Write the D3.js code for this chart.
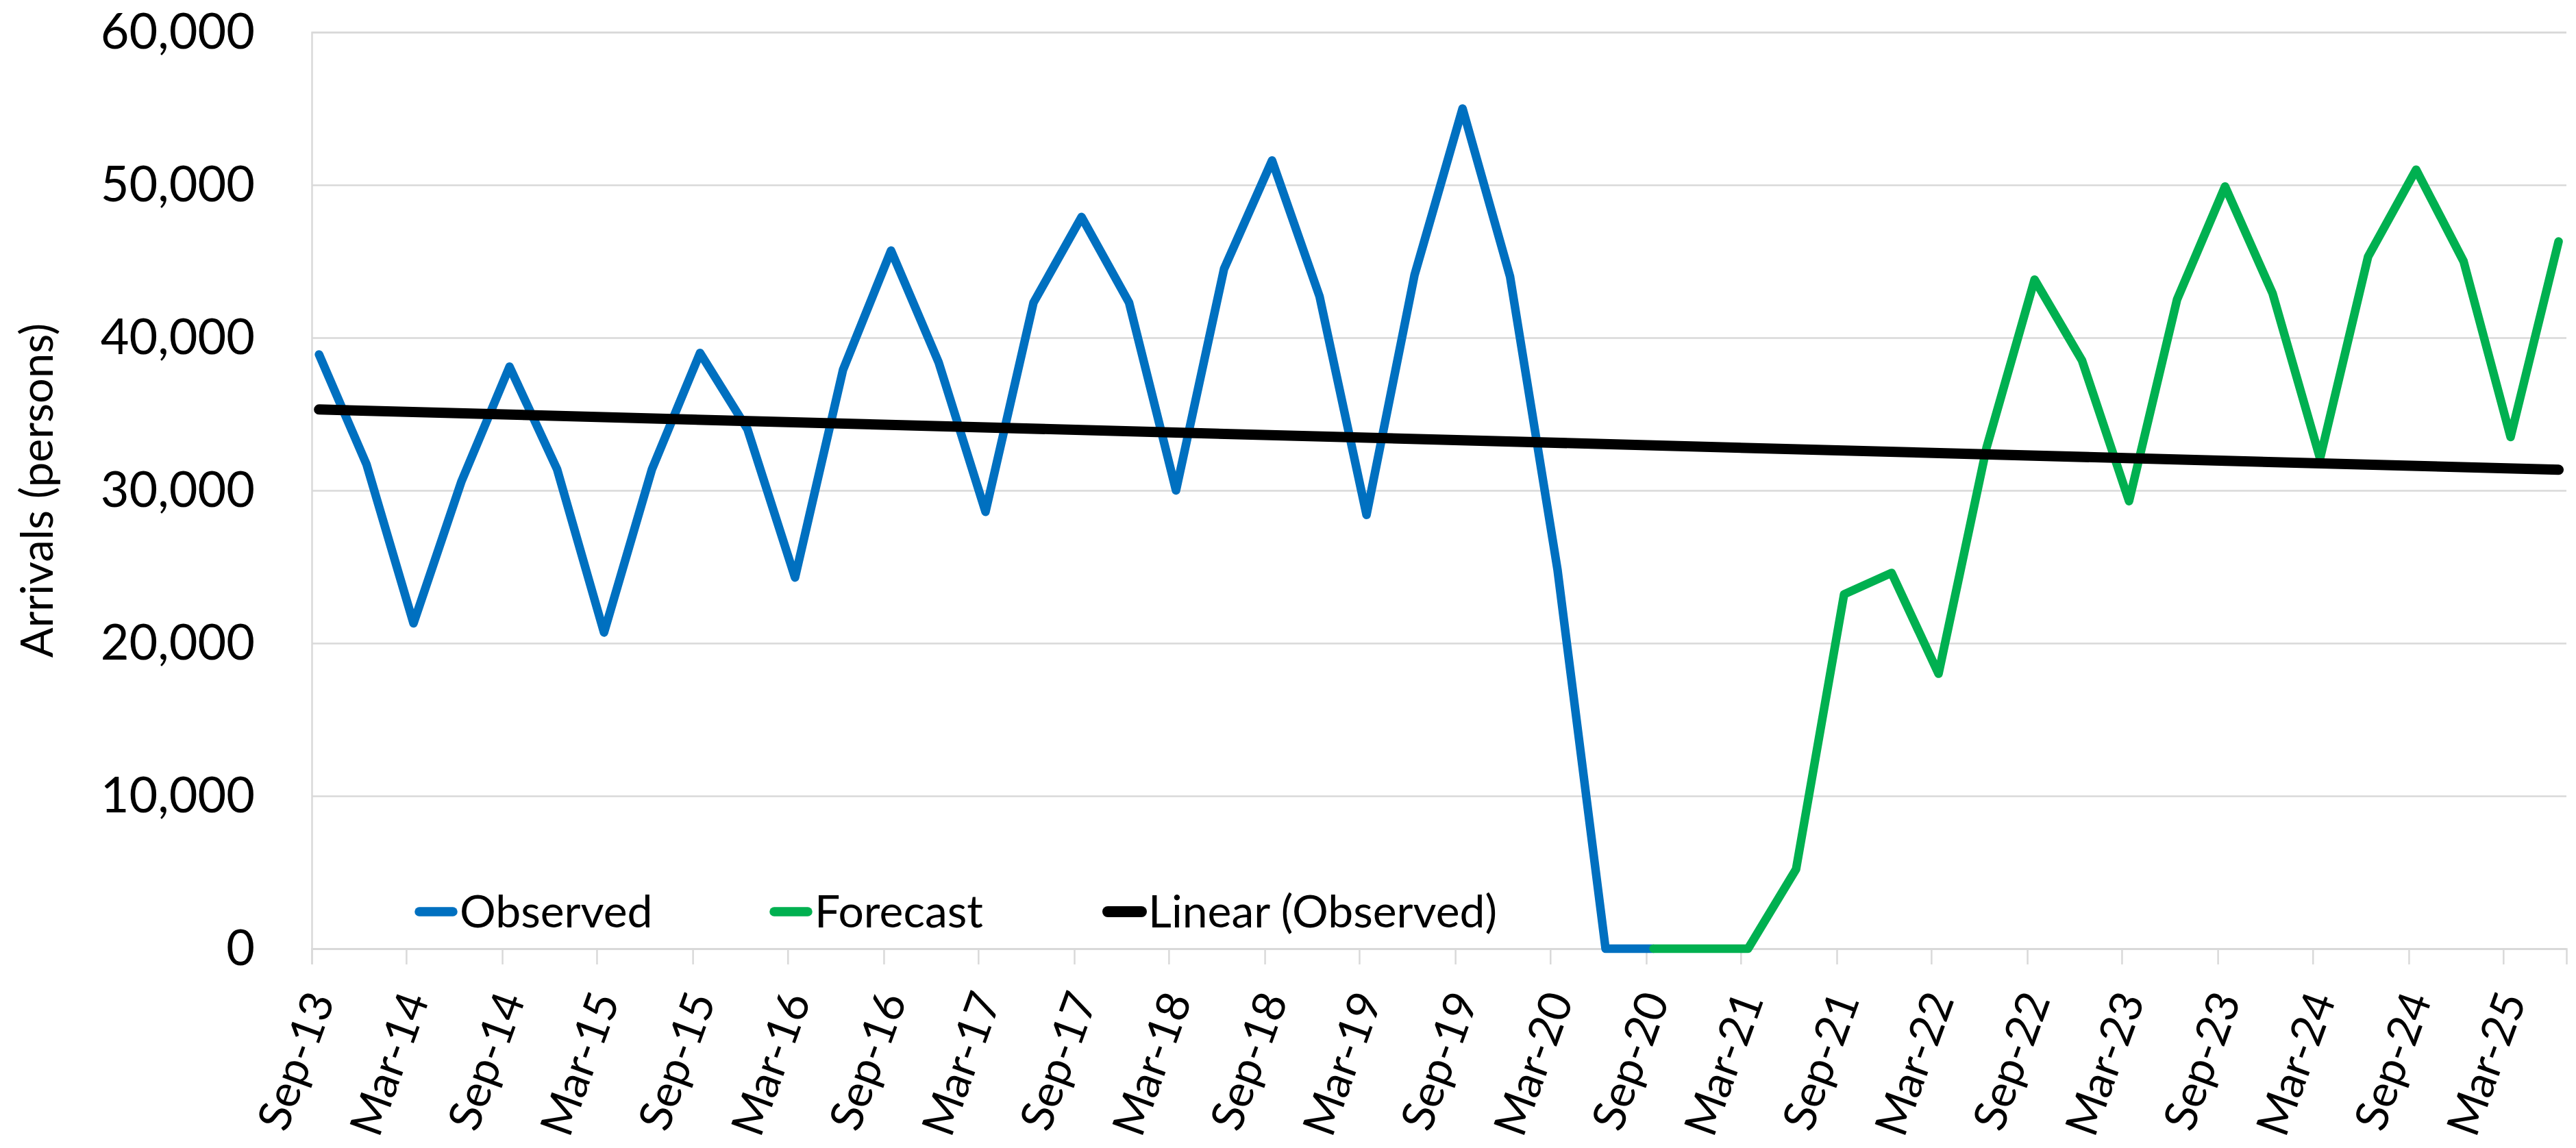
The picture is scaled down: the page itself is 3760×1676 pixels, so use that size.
<!DOCTYPE html>
<html>
<head>
<meta charset="utf-8">
<script src="https://cdn.jsdelivr.net/npm/d3@7"></script>
<style>
  html, body { margin: 0; padding: 0; background: #ffffff; }
  svg { display: block; font-family: Lato, "Open Sans", sans-serif; }
</style>
</head>
<body>
<svg id="chart" width="3760" height="1676"></svg>
<script>
// Quarterly arrivals: observed history, forecast, and a linear trend of the history.
const quarters = [
  "Sep-13","Dec-13","Mar-14","Jun-14","Sep-14","Dec-14","Mar-15","Jun-15",
  "Sep-15","Dec-15","Mar-16","Jun-16","Sep-16","Dec-16","Mar-17","Jun-17",
  "Sep-17","Dec-17","Mar-18","Jun-18","Sep-18","Dec-18","Mar-19","Jun-19",
  "Sep-19","Dec-19","Mar-20","Jun-20","Sep-20","Dec-20","Mar-21","Jun-21",
  "Sep-21","Dec-21","Mar-22","Jun-22","Sep-22","Dec-22","Mar-23","Jun-23",
  "Sep-23","Dec-23","Mar-24","Jun-24","Sep-24","Dec-24","Mar-25","Jun-25"
];

// Observed runs Sep-13 .. Sep-20
const observed = [
  38900, 31700, 21300, 30600, 38100, 31400, 20700, 31400,
  39000, 34000, 24300, 37900, 45700, 38400, 28600, 42300,
  47900, 42300, 30000, 44500, 51600, 42700, 28400, 44100,
  55000, 44000, 24800, 0, 0
];

// Forecast runs Sep-20 .. Jun-25
const forecastStart = "Sep-20";
const forecast = [
  0, 0, 0, 5200, 23200, 24600, 18000, 32800,
  43800, 38500, 29300, 42500, 49900, 42900, 32100, 45300,
  51000, 45000, 33500, 46300
];

const tickLabels = [
  "Sep-13","Mar-14","Sep-14","Mar-15","Sep-15","Mar-16","Sep-16","Mar-17",
  "Sep-17","Mar-18","Sep-18","Mar-19","Sep-19","Mar-20","Sep-20","Mar-21",
  "Sep-21","Mar-22","Sep-22","Mar-23","Sep-23","Mar-24","Sep-24","Mar-25"
];
const yTicks = [0, 10000, 20000, 30000, 40000, 50000, 60000];

const seriesNames = ["Observed", "Forecast", "Linear (Observed)"];
const colors = { observed: "#0070C0", forecast: "#00B050", trend: "#000000" };

// ---- layout ----
const plot = { left: 455, right: 3746, top: 47, bottom: 1385 };
const seriesWidth = 12.5;
const trendWidth = 15;

const parseMonth = d3.timeParse("%b-%y");
// each quarter's value is placed mid-month on the date axis
const pointDate = label => d3.timeDay.offset(parseMonth(label), 14);

const x = d3.scaleTime()
  .domain([new Date(2013, 8, 1), new Date(2025, 5, 30)])
  .range([plot.left, plot.right]);

const y = d3.scaleLinear()
  .domain([0, 60000])
  .range([plot.bottom, plot.top]);

const svg = d3.select("#chart");
svg.append("rect").attr("width", 3760).attr("height", 1676).attr("fill", "#ffffff");

const gridColor = "#d9d9d9";

// horizontal gridlines + value labels
const yAxis = d3.axisLeft(y)
  .tickValues(yTicks)
  .tickSize(-(plot.right - plot.left))
  .tickPadding(plot.left - 372)
  .tickFormat(d3.format(","));

const gy = svg.append("g")
  .attr("transform", `translate(${plot.left},0)`)
  .call(yAxis);
gy.select(".domain").attr("stroke", gridColor).attr("stroke-width", 2.5);
gy.selectAll(".tick line").attr("stroke", gridColor).attr("stroke-width", 2.5);
gy.selectAll(".tick text")
  .attr("fill", "#000")
  .style("font-size", "72px")
  .style("font-family", "Lato, sans-serif");

// category axis along the zero line
const tickDates = tickLabels.map(parseMonth);
const xAxis = d3.axisBottom(x)
  .tickValues(tickDates)
  .tickSize(23)
  .tickFormat(d3.timeFormat("%b-%y"));

const gx = svg.append("g")
  .attr("transform", `translate(0,${plot.bottom})`)
  .call(xAxis);
gx.select(".domain").attr("stroke", gridColor).attr("stroke-width", 2.5);
gx.selectAll(".tick line").attr("stroke", gridColor).attr("stroke-width", 2.5);
gx.selectAll(".tick text")
  .attr("fill", "#000")
  .style("font-size", "66px")
  .style("font-family", "Lato, sans-serif")
  .attr("text-anchor", "end")
  .attr("y", 0)
  .attr("dy", "0.35em")
  .attr("transform", "translate(12,66) rotate(-70)");

// axis title
svg.append("text")
  .attr("transform", `translate(54,${(plot.top + plot.bottom) / 2}) rotate(-90)`)
  .attr("text-anchor", "middle")
  .attr("dy", "0.35em")
  .style("font-size", "65px")
  .attr("fill", "#000")
  .text("Arrivals (persons)");

// ---- series ----
const obsData = observed.map((v, i) => ({ date: pointDate(quarters[i]), value: v }));
const f0 = quarters.indexOf(forecastStart);
const fcData = forecast.map((v, i) => ({ date: pointDate(quarters[f0 + i]), value: v }));

const line = d3.line().x(d => x(d.date)).y(d => y(d.value));

svg.append("path")
  .datum(obsData)
  .attr("d", line)
  .attr("fill", "none")
  .attr("stroke", colors.observed)
  .attr("stroke-width", seriesWidth)
  .attr("stroke-linejoin", "round")
  .attr("stroke-linecap", "round");

svg.append("path")
  .datum(fcData)
  .attr("d", line)
  .attr("fill", "none")
  .attr("stroke", colors.forecast)
  .attr("stroke-width", seriesWidth)
  .attr("stroke-linejoin", "round")
  .attr("stroke-linecap", "round");

// least-squares trend of the observed series, extended across the whole period
const xs = obsData.map(d => +d.date);
const ys = obsData.map(d => d.value);
const mx = d3.mean(xs), my = d3.mean(ys);
const slope = d3.sum(xs, (xv, i) => (xv - mx) * (ys[i] - my)) / d3.sum(xs, xv => (xv - mx) ** 2);
const intercept = my - slope * mx;
const trendDates = [pointDate(quarters[0]), pointDate(quarters[quarters.length - 1])];
const trendData = trendDates.map(d => ({ date: d, value: intercept + slope * (+d) }));

svg.append("path")
  .datum(trendData)
  .attr("d", line)
  .attr("fill", "none")
  .attr("stroke", colors.trend)
  .attr("stroke-width", trendWidth)
  .attr("stroke-linecap", "round");

// ---- legend ----
const legendY = 1331;
const legendItems = [
  { name: seriesNames[0], color: colors.observed, x0: 605, w: seriesWidth },
  { name: seriesNames[1], color: colors.forecast, x0: 1123, w: seriesWidth },
  { name: seriesNames[2], color: colors.trend, x0: 1610, w: trendWidth }
];
const lg = svg.append("g");
legendItems.forEach(it => {
  lg.append("line")
    .attr("x1", it.x0 + 7).attr("x2", it.x0 + 56)
    .attr("y1", legendY).attr("y2", legendY)
    .attr("stroke", it.color)
    .attr("stroke-width", it.w + 1)
    .attr("stroke-linecap", "round");
  lg.append("text")
    .attr("x", it.x0 + 66)
    .attr("y", legendY)
    .attr("dy", "0.35em")
    .style("font-size", "66px")
    .attr("fill", "#000")
    .text(it.name);
});
</script>
</body>
</html>
